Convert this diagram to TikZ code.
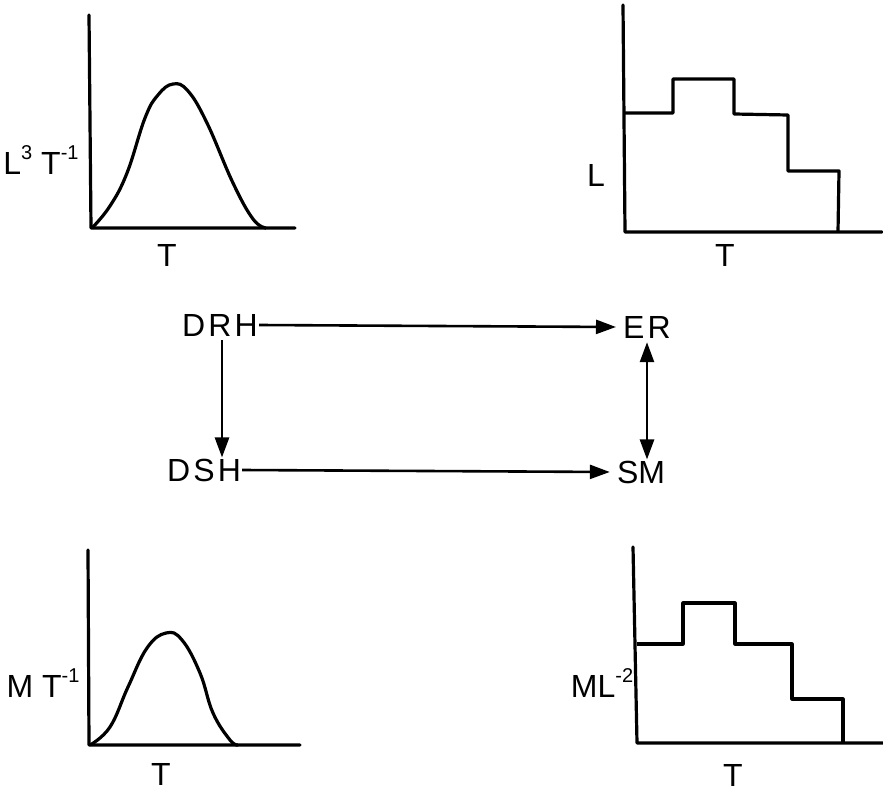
\documentclass[tikz,border=0pt]{standalone}
\usepackage{fontspec}
\setmainfont{Liberation Sans}
\newfontfamily\spaced[LetterSpace=10]{Liberation Sans}
\usetikzlibrary{arrows.meta}
\newcommand\supx[1]{\raisebox{0.45em}{\fontsize{20}{20}\selectfont #1}}
\begin{document}
\begin{tikzpicture}[x=1pt,y=-1pt,
  lbl/.style={font=\fontsize{32}{32}\selectfont, inner sep=1pt},
  slbl/.style={font=\spaced\fontsize{32}{32}\selectfont, inner sep=1pt},
  axis/.style={line width=3.2pt, line cap=round, line join=round},
  curve/.style={line width=3.2pt, line join=round},
  arr/.style={line width=2.6pt, -{Triangle[length=20pt,width=14pt]}},
  darr/.style={line width=2.6pt, {Triangle[length=20pt,width=14pt]}-{Triangle[length=20pt,width=14pt]}}]
\useasboundingbox (0,0) rectangle (883,794);
% top-left plot
\draw[axis] (89,15) -- (91,228) -- (295,228);
\draw[curve] plot[smooth, tension=0.7] coordinates {(92,228) (110,206) (127,173) (145,118) (158,95) (173,84) (188,91) (207,123) (233,183) (253,219) (266,228)};
\node[lbl] (ylA) at (41,160) {L\supx{3} T\supx{-1}};
\node[lbl] (xlA) at (167,255) {T};
% top-right plot
\draw[axis] (623,5) -- (625,232) -- (882,232);
\draw[curve] (625,113) -- (673,113) -- (673,79) -- (734,79) -- (734,114) -- (788,115) -- (788,171) -- (839,171) -- (838,232);
\node[lbl] (ylB) at (596,175) {L};
\node[lbl] (xlB) at (725,255) {T};
% bottom-left plot
\draw[axis] (88,550) -- (89,745) -- (300,745);
\draw[curve] plot[smooth, tension=0.7] coordinates {(90,745) (110,727) (128,687) (147,648) (166,633) (182,640) (200,673) (213,713) (230,740) (238,745)};
\node[lbl] (ylC) at (43,683) {M T\supx{-1}};
\node[lbl] (xlC) at (161,774) {T};
% bottom-right plot
\draw[axis] (633,547) -- (637,743) -- (883,743);
\draw[curve] (637,644) -- (683,644) -- (683,603) -- (735,603) -- (735,644) -- (792,644) -- (792,699) -- (843,699) -- (843,743);
\node[lbl] (ylD) at (602,683) {ML\supx{-2}};
\node[lbl] (xlD) at (733,775) {T};
% central scheme
\node[slbl] (DRH) at (220,325) {DRH};
\node[slbl] (DSH) at (204,470) {DSH};
\node[slbl] (ER) at (647,327) {ER};
\node[lbl] (SM) at (641,472) {SM};
\draw[arr] (DRH.east) -- ([xshift=-6pt]ER.west);
\draw[arr] (DSH.east) -- ([xshift=-6pt]SM.west);
\draw[arr] ([xshift=2pt,yshift=-3pt]DRH.south) -- ([xshift=2pt]DRH.south |- DSH.north);
\draw[darr] ([yshift=-3pt]ER.south) -- (ER.south |- SM.north);
\end{tikzpicture}
\end{document}
